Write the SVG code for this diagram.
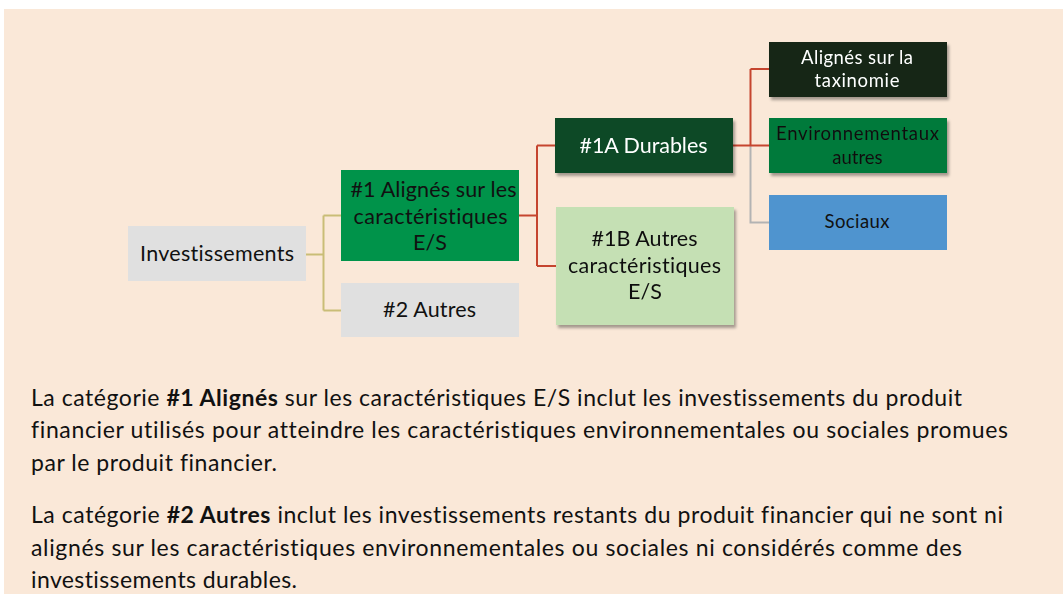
<svg xmlns="http://www.w3.org/2000/svg" width="1063" height="594" viewBox="0 0 1063 594">
<style>
text{font-family:Lato,"Open Sans","Liberation Sans",sans-serif;fill:#111;font-variant-ligatures:none;}
.n{font-size:21.5px;text-anchor:middle;}
.s{font-size:18.5px;text-anchor:middle;}
.w{fill:#fff;}
.p{font-size:23px;}
.c{fill:none;stroke-width:2;}
</style>
<defs>
<filter id="sh" x="-10%" y="-10%" width="125%" height="135%">
<feGaussianBlur in="SourceAlpha" stdDeviation="1.6"/>
<feOffset dx="1.5" dy="2.5" result="b"/>
<feComponentTransfer><feFuncA type="linear" slope="0.35"/></feComponentTransfer>
<feMerge><feMergeNode/><feMergeNode in="SourceGraphic"/></feMerge>
</filter>
</defs>
<rect x="0" y="0" width="1063" height="594" fill="#fff"/>
<rect x="4" y="9" width="1059" height="585" fill="#fae8d8"/>
<g id="connectors">
<path class="c" stroke="#c9bd77" d="M306 254.5H323.5M323.5 215.5V310.5M323.5 215.5H341M323.5 310.5H341"/>
<path class="c" stroke="#c5452f" d="M519 215.5H537M537 145.5V266M537 145.5H555M537 266H556"/>
<path class="c" stroke="#b3b3b3" d="M750.5 145.5V222.5H769"/>
<path class="c" stroke="#c5452f" d="M733 145.5H769M750.5 69V145.5M750.5 69H769"/>
</g>
<g id="investissements">
<rect x="128" y="226" width="178" height="55" fill="#e0e0e0"/>
<text class="n" x="217" y="261" textLength="154">Investissements</text>
</g>
<g id="alignes-es">
<rect x="341" y="170" width="178" height="91" fill="#00934a"/>
<text class="n" x="433.5" y="197" textLength="166">#1 Alignés sur les</text>
<text class="n" x="430.5" y="224" textLength="154">caractéristiques</text>
<text class="n" x="430" y="250">E/S</text>
</g>
<g id="autres2">
<rect x="341" y="283" width="178" height="54" fill="#e0e0e0"/>
<text class="n" x="429.5" y="317" textLength="93">#2 Autres</text>
</g>
<g id="durables" filter="url(#sh)">
<rect x="555" y="118" width="178" height="55" fill="#0b4a27"/>
<text class="n w" x="643.5" y="152.5" textLength="128">#1A Durables</text>
</g>
<g id="autres1b" filter="url(#sh)">
<rect x="556" y="207" width="178" height="118" fill="#c5e0b4"/>
<text class="n" x="644.5" y="246" textLength="106">#1B Autres</text>
<text class="n" x="644.5" y="273" textLength="153">caractéristiques</text>
<text class="n" x="645" y="298.5">E/S</text>
</g>
<g id="taxinomie" filter="url(#sh)">
<rect x="769" y="42" width="178" height="55" fill="#132716"/>
<text class="s w" x="857" y="63.5" textLength="112">Alignés sur la</text>
<text class="s w" x="857" y="87" textLength="85">taxinomie</text>
</g>
<g id="environnementaux" filter="url(#sh)">
<rect x="769" y="118" width="178" height="55" fill="#047a3b"/>
<text class="s" x="857.5" y="140" textLength="163">Environnementaux</text>
<text class="s" x="857.5" y="163.5">autres</text>
</g>
<g id="sociaux">
<rect x="769" y="195" width="178" height="55" fill="#4f94cf"/>
<text class="s" x="857" y="227.5" textLength="65">Sociaux</text>
</g>
<g id="texte">
<text class="p" x="31" y="406" textLength="931">La catégorie <tspan font-weight="bold">#1 Alignés</tspan> sur les caractéristiques E/S inclut les investissements du produit</text>
<text class="p" x="31" y="438" textLength="977">financier utilisés pour atteindre les caractéristiques environnementales ou sociales promues</text>
<text class="p" x="31" y="470.5" textLength="246">par le produit financier.</text>
<text class="p" x="31" y="523" textLength="972">La catégorie <tspan font-weight="bold">#2 Autres</tspan> inclut les investissements restants du produit financier qui ne sont ni</text>
<text class="p" x="31" y="555.5" textLength="931">alignés sur les caractéristiques environnementales ou sociales ni considérés comme des</text>
<text class="p" x="31" y="588" textLength="266">investissements durables.</text>
</g>
</svg>
